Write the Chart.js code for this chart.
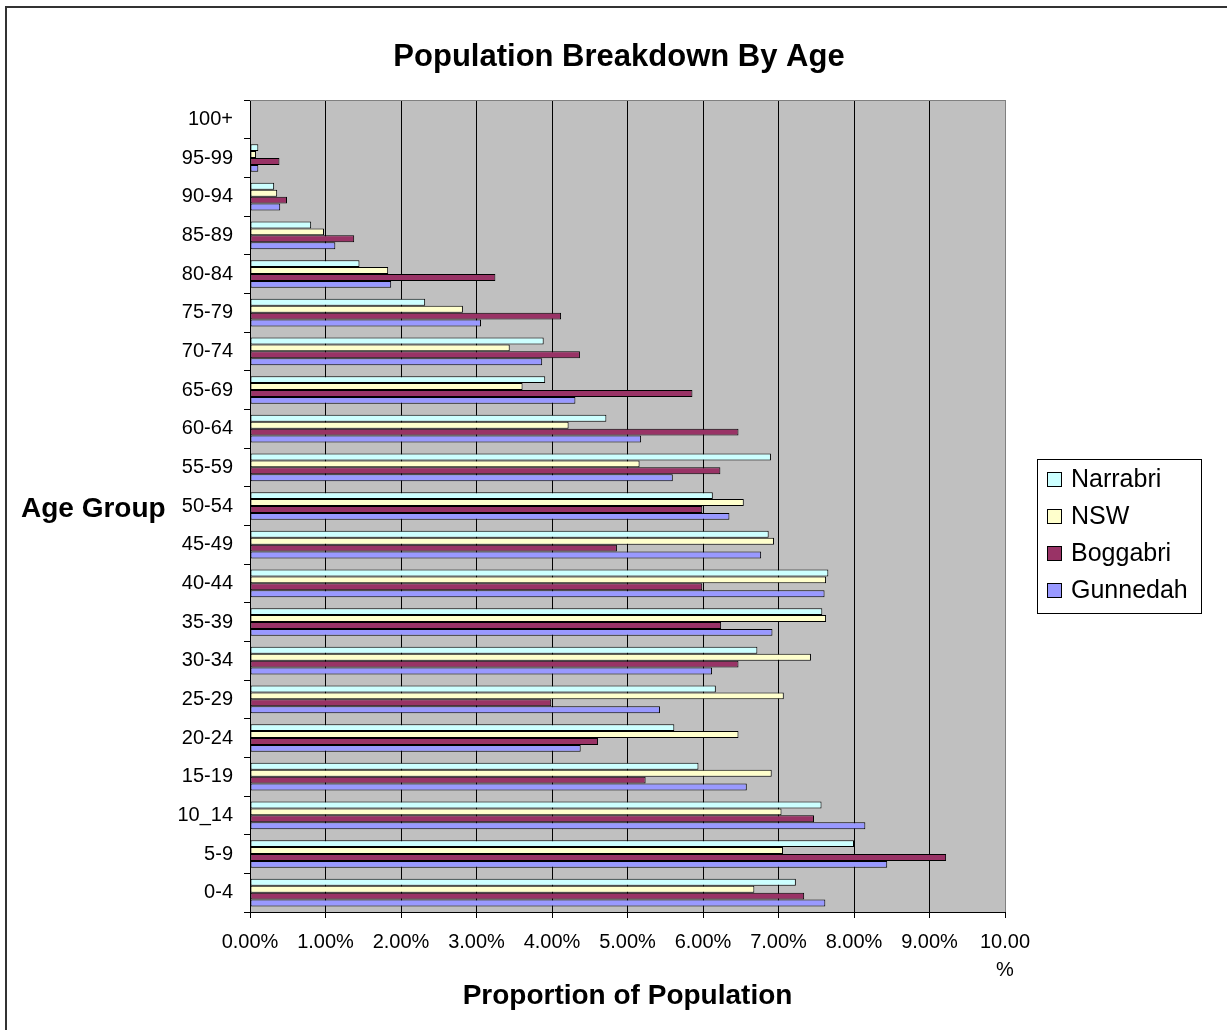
<!DOCTYPE html>
<html>
<head>
<meta charset="utf-8">
<title>Population Breakdown By Age</title>
<script src="https://cdn.jsdelivr.net/npm/chart.js@4/dist/chart.umd.min.js"></script>
<style>
  html, body { margin: 0; padding: 0; background: #ffffff; }
  #c { display: block; }
</style>
</head>
<body>
<canvas id="c" width="1227" height="1030"></canvas>
<script>
// Age groups, youngest first (drawn bottom to top)
const ageGroups = ['0-4', '5-9', '10_14', '15-19', '20-24', '25-29', '30-34', '35-39', '40-44', '45-49',
                   '50-54', '55-59', '60-64', '65-69', '70-74', '75-79', '80-84', '85-89', '90-94', '95-99', '100+'];

// Share of each population in the age group, in percent
const narrabri = [7.23, 8.00, 7.57, 5.94, 5.62, 6.17, 6.72, 7.58, 7.66, 6.87,
                  6.13, 6.90, 4.72, 3.91, 3.89, 2.32, 1.45, 0.81, 0.32, 0.11, 0];
const nsw      = [6.68, 7.06, 7.04, 6.91, 6.47, 7.07, 7.43, 7.63, 7.63, 6.94,
                  6.54, 5.16, 4.22, 3.61, 3.44, 2.82, 1.83, 0.98, 0.36, 0.08, 0];
const boggabri = [7.34, 9.22, 7.47, 5.24, 4.61, 3.99, 6.47, 6.24, 5.99, 4.86,
                  5.99, 6.23, 6.47, 5.86, 4.37, 4.12, 3.25, 1.38, 0.49, 0.39, 0];
const gunnedah = [7.62, 8.44, 8.15, 6.58, 4.38, 5.43, 6.12, 6.92, 7.61, 6.77,
                  6.35, 5.60, 5.18, 4.31, 3.87, 3.06, 1.87, 1.13, 0.40, 0.11, 0];

const seriesNames  = ['Narrabri', 'NSW', 'Boggabri', 'Gunnedah'];
const seriesValues = [narrabri, nsw, boggabri, gunnedah];
const seriesColors = ['#CCFFFF', '#FFFFCC', '#993366', '#9999FF'];

// Value axis tick labels (0% .. 10%); the last one wraps onto two lines
const xTickLabels = ['0.00%', '1.00%', '2.00%', '3.00%', '4.00%', '5.00%',
                     '6.00%', '7.00%', '8.00%', '9.00%', ['10.00', '%']];

const chartTitle = 'Population Breakdown By Age';
const yAxisTitle = 'Age Group';
const xAxisTitle = 'Proportion of Population';

const FONT = '"Liberation Sans", Arial, Helvetica, sans-serif';
Chart.defaults.font.family = FONT;
Chart.defaults.color = '#000';

// Grey plot background, frame, title, horizontal axis caption and boxed legend
const decor = {
  id: 'decor',
  beforeDraw(chart) {
    const { ctx, chartArea: a } = chart;
    ctx.save();
    ctx.fillStyle = '#ffffff';
    ctx.fillRect(0, 0, chart.width, chart.height);
    ctx.fillStyle = '#C0C0C0';
    ctx.fillRect(a.left, a.top, a.right - a.left, a.bottom - a.top);
    ctx.restore();
  },
  afterDraw(chart) {
    const { ctx, chartArea: a } = chart;
    ctx.save();

    // outer frame (left and top edges)
    ctx.fillStyle = '#333333';
    ctx.fillRect(5, 6, 2, chart.height - 6);
    ctx.fillRect(5, 6, chart.width - 5, 2);

    // top edge of the plot area
    ctx.strokeStyle = '#808080';
    ctx.lineWidth = 1;
    ctx.beginPath();
    ctx.moveTo(a.left, Math.round(a.top) + 0.5);
    ctx.lineTo(a.right + 1, Math.round(a.top) + 0.5);
    ctx.stroke();

    // chart title
    ctx.fillStyle = '#000';
    ctx.font = 'bold 31px ' + FONT;
    ctx.textAlign = 'center';
    ctx.textBaseline = 'alphabetic';
    ctx.fillText(chartTitle, 619, 66);

    // category axis caption, written horizontally left of the labels
    ctx.font = 'bold 28px ' + FONT;
    ctx.textAlign = 'left';
    ctx.fillText(yAxisTitle, 21, 517);

    // legend box
    const lx = 1037, ly = 459, lw = 164, lh = 154;
    ctx.strokeStyle = '#000';
    ctx.lineWidth = 1;
    ctx.strokeRect(lx + 0.5, ly + 0.5, lw, lh);
    ctx.font = '25px ' + FONT;
    ctx.textBaseline = 'middle';
    chart.data.datasets.forEach((ds, i) => {
      const cy = 479 + i * 37;
      const top = Math.round(cy - 7);
      ctx.fillStyle = ds.backgroundColor;
      ctx.fillRect(1047, top, 14, 14);
      ctx.strokeRect(1047.5, top + 0.5, 14, 14);
      ctx.fillStyle = '#000';
      ctx.fillText(ds.label, 1071, cy + 1);
    });
    ctx.restore();
  }
};

new Chart(document.getElementById('c'), {
  type: 'bar',
  data: {
    labels: ageGroups,
    datasets: seriesNames.map((name, i) => ({
      label: name,
      data: seriesValues[i],
      backgroundColor: seriesColors[i],
      borderColor: '#000',
      borderWidth: 1,
      borderSkipped: false,
      barPercentage: 1.0,
      categoryPercentage: 0.715
    }))
  },
  options: {
    indexAxis: 'y',
    responsive: false,
    animation: false,
    devicePixelRatio: 1,
    layout: { padding: { top: 100, right: 222, bottom: 0, left: 8 } },
    plugins: {
      legend: { display: false },
      title: { display: false },
      tooltip: { enabled: false }
    },
    scales: {
      x: {
        type: 'linear',
        min: 0,
        max: 10,
        ticks: {
          stepSize: 1,
          padding: 10,
          color: '#000',
          font: { size: 20, lineHeight: 1.4 },
          maxRotation: 0,
          autoSkip: false,
          callback: (v, i) => xTickLabels[i]
        },
        grid: {
          color: c => (c.index === 10 ? '#808080' : '#000'),
          tickColor: '#000',
          tickLength: 6,
          lineWidth: 1
        },
        border: { color: '#000', width: 1 },
        title: {
          display: true,
          text: xAxisTitle,
          color: '#000',
          font: { size: 28, weight: 'bold', lineHeight: 1.2 },
          padding: { top: 0, bottom: 17 }
        },
        afterFit: s => { s.height = 118; }
      },
      y: {
        type: 'category',
        reverse: true,
        ticks: {
          padding: 11,
          color: '#000',
          font: { size: 20 },
          autoSkip: false
        },
        grid: {
          drawOnChartArea: false,
          drawTicks: true,
          tickLength: 6,
          color: '#000',
          offset: true
        },
        border: { color: '#000', width: 1 },
        afterFit: s => { s.width = 242; }
      }
    }
  },
  plugins: [decor]
});
</script>
</body>
</html>
